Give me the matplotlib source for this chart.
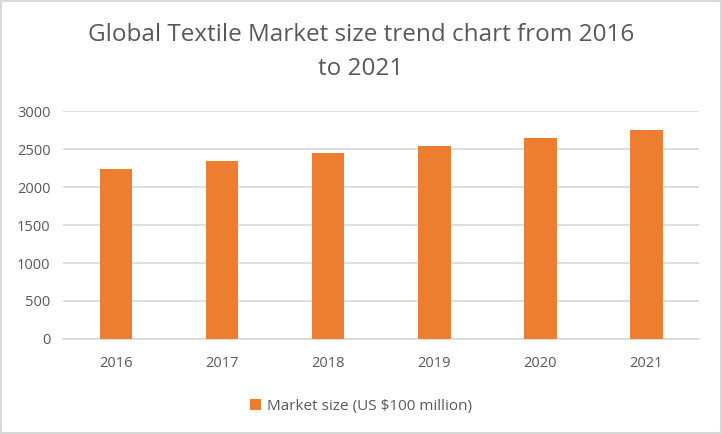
import matplotlib.pyplot as plt
from matplotlib.patches import Rectangle

years = ['2016', '2017', '2018', '2019', '2020', '2021']
market_size = [2234, 2340, 2446, 2538, 2644, 2749]
yticks = [0, 500, 1000, 1500, 2000, 2500, 3000]

plt.rcParams['font.family'] = ['Open Sans', 'DejaVu Sans']
grey = '#595959'

fig = plt.figure(figsize=(7.22, 4.34), dpi=100)
ax = fig.add_axes([0.0873, 0.219, 0.881, 0.525])

ax.bar(years, market_size, width=0.31, color='#ED7D31', zorder=3,
       label='Market size (US $100 million)')
ax.set_ylim(0, 3000)
ax.set_yticks(yticks)
ax.set_xlim(-0.5, 5.5)
ax.grid(axis='y', color='#D9D9D9', linewidth=1.2, zorder=0)
for s in ['top', 'right', 'left']:
    ax.spines[s].set_visible(False)
ax.spines['bottom'].set_color('#D9D9D9')
ax.spines['bottom'].set_linewidth(1.2)
ax.tick_params(length=0, labelsize=10.5, colors=grey, pad=9)
ax.tick_params(axis='x', pad=12)

fig.text(0.5, 0.947, 'Global Textile Market size trend chart from 2016\nto 2021',
         ha='center', va='top', fontsize=17.5, color=grey, linespacing=1.55)

fig.legend(loc='center', bbox_to_anchor=(0.5, 0.064), frameon=False,
           fontsize=11, labelcolor=grey, handlelength=0.7, handleheight=0.7,
           handletextpad=0.4)

fig.patches.append(Rectangle((0.002, 0.003), 0.996, 0.994, transform=fig.transFigure,
                             fill=False, edgecolor='#D9D9D9', linewidth=1.5))

fig.savefig('out.png', dpi=100)
